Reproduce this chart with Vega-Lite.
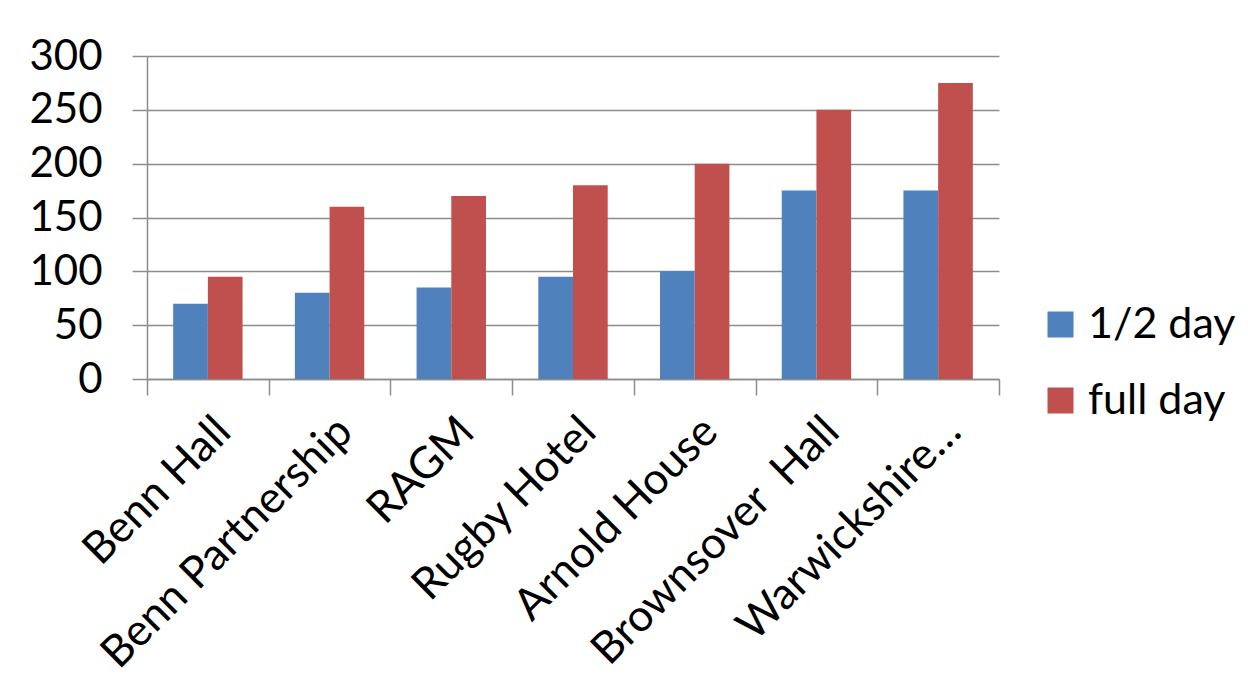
{
  "$schema": "https://vega.github.io/schema/vega-lite/v6.json",
  "width": 852,
  "height": 323,
  "autosize": {"type": "none"},
  "padding": {"left": 147, "top": 56, "right": 249, "bottom": 321},
  "background": "white",
  "config": {
    "font": "Lato",
    "view": {"stroke": null},
    "axis": {"labelColor": "#000000", "domainColor": "#8c8c8c", "tickColor": "#8c8c8c", "gridColor": "#8c8c8c", "domainWidth": 1.5, "tickWidth": 1.5, "gridWidth": 1.5}
  },
  "data": {
    "values": [
      {"venue": "Benn Hall", "type": "1/2 day", "price": 70},
      {"venue": "Benn Hall", "type": "full day", "price": 95},
      {"venue": "Benn Partnership", "type": "1/2 day", "price": 80},
      {"venue": "Benn Partnership", "type": "full day", "price": 160},
      {"venue": "RAGM", "type": "1/2 day", "price": 85},
      {"venue": "RAGM", "type": "full day", "price": 170},
      {"venue": "Rugby Hotel", "type": "1/2 day", "price": 95},
      {"venue": "Rugby Hotel", "type": "full day", "price": 180},
      {"venue": "Arnold House", "type": "1/2 day", "price": 100},
      {"venue": "Arnold House", "type": "full day", "price": 200},
      {"venue": "Brownsover\u00a0 Hall", "type": "1/2 day", "price": 175},
      {"venue": "Brownsover\u00a0 Hall", "type": "full day", "price": 250},
      {"venue": "Warwickshire…", "type": "1/2 day", "price": 175},
      {"venue": "Warwickshire…", "type": "full day", "price": 275}
    ]
  },
  "mark": {"type": "bar"},
  "encoding": {
    "x": {
      "field": "venue",
      "type": "nominal",
      "sort": null,
      "scale": {"paddingInner": 0, "paddingOuter": 0},
      "axis": {"title": null, "labelAngle": -45, "labelFontSize": 44, "labelLimit": 0, "tickBand": "extent", "tickSize": 16, "labelPadding": 14, "grid": false}
    },
    "xOffset": {"field": "type", "type": "nominal", "sort": ["1/2 day", "full day"], "scale": {"paddingInner": 0, "paddingOuter": 0.754}},
    "y": {
      "field": "price",
      "type": "quantitative",
      "scale": {"domain": [0, 300]},
      "axis": {"title": null, "values": [0, 50, 100, 150, 200, 250, 300], "tickSize": 15, "labelPadding": 30, "labelFontSize": 42, "grid": true, "domain": true}
    },
    "color": {
      "field": "type",
      "type": "nominal",
      "sort": ["1/2 day", "full day"],
      "scale": {"range": ["#4F81BD", "#C0504D"]},
      "legend": {"title": null, "orient": "none", "legendX": 892, "legendY": 247, "symbolType": "square", "symbolSize": 676, "symbolStrokeWidth": 0, "symbolOpacity": 1, "labelFontSize": 43, "labelColor": "#000000", "labelOffset": 6, "rowPadding": 32, "padding": 0}
    }
  }
}
